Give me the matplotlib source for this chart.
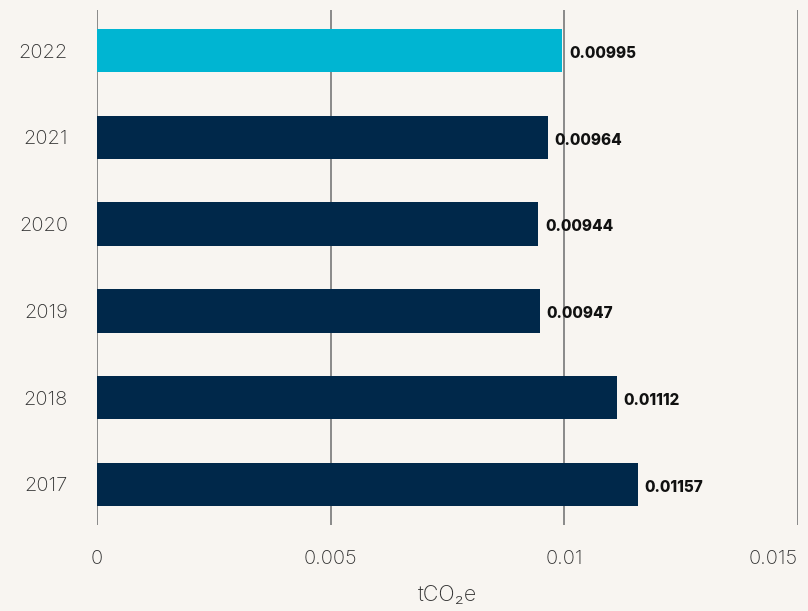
import matplotlib
matplotlib.use("Agg")
import matplotlib.pyplot as plt

years = ["2022", "2021", "2020", "2019", "2018", "2017"]
values = [0.00995, 0.00964, 0.00944, 0.00947, 0.01112, 0.01157]
value_labels = ["0.00995", "0.00964", "0.00944", "0.00947", "0.01112", "0.01157"]
xticks = [0, 0.005, 0.01, 0.015]
xtick_labels = ["0", "0.005", "0.01", "0.015"]

BG = "#f8f5f1"
NAVY = "#00284a"
CYAN = "#00b5d2"
colors = [CYAN] + [NAVY] * (len(years) - 1)
FONT = ["Inter", "DejaVu Sans"]

fig = plt.figure(figsize=(8.08, 6.11), dpi=100)
fig.patch.set_facecolor(BG)
ax = fig.add_axes([97 / 808, 1 - 525 / 611, 701 / 808, 515 / 611])
ax.set_facecolor(BG)

pos = list(range(len(years)))
ax.barh(pos, values, height=0.5, color=colors, zorder=3)

for p, v, lab in zip(pos, values, value_labels):
    ax.annotate(lab, (v, p), xytext=(5, -2), textcoords="offset points",
                ha="left", va="center", fontsize=11, fontweight="heavy",
                family=FONT, color="#111111", zorder=4)

ax.set_xlim(0, 0.015)
ax.set_ylim(len(years) - 0.53, -0.47)
ax.set_xticks(xticks)
ax.set_xticklabels(xtick_labels)
ax.set_yticks(pos)
ax.set_yticklabels(years)
ax.tick_params(length=0, labelsize=14.5, labelcolor="#333333")
ax.tick_params(axis="x", pad=18)
ax.tick_params(axis="y", pad=21)
for t in ax.get_xticklabels() + ax.get_yticklabels():
    t.set_family(FONT)
    t.set_fontweight("light")
# last tick label sits flush against the right edge
ax.get_xticklabels()[-1].set_horizontalalignment("right")

ax.xaxis.grid(True, color="#8a8a8a", linewidth=1.4, zorder=1)
ax.set_axisbelow(True)
for s in ax.spines.values():
    s.set_visible(False)

ax.set_xlabel("tCO\u2082e", fontsize=15.5, color="#333333", labelpad=12,
              family=FONT, fontweight="light")

fig.savefig("out.png", dpi=100, facecolor=BG)
